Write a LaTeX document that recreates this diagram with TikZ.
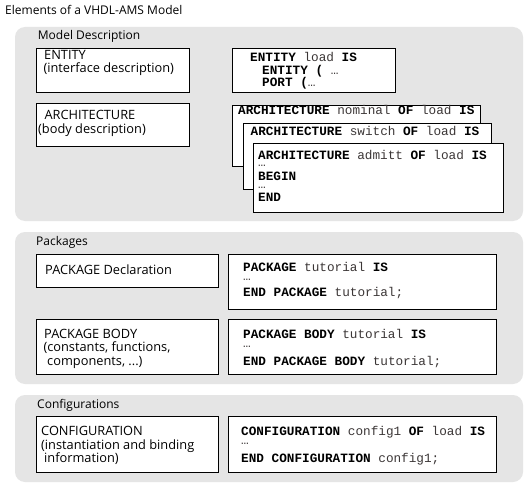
\documentclass[tikz,border=0pt]{standalone}
\usepackage{fontspec}
\setmainfont{Open Sans}
\newfontfamily\codefont{Liberation Mono}
\definecolor{panelgray}{RGB}{229,229,229}
\definecolor{codegray}{RGB}{60,55,55}
\begin{document}
\begin{tikzpicture}[x=1pt,y=-1pt,
  panel/.style={fill=panelgray,draw=none,rounded corners=10pt},
  lbox/.style={draw,line width=1.1pt,fill=white,inner sep=0,anchor=north west},
  cbox/.style={draw,line width=0.9pt,fill=white,inner sep=0,anchor=north west},
  lab/.style={anchor=base west,inner sep=0,font=\fontsize{12}{14}\selectfont},
  blab/.style={anchor=base west,inner sep=0,font=\fontsize{12.8}{14}\selectfont},
  code/.style={anchor=base west,inner sep=0,font=\codefont\fontsize{12.7}{14}\selectfont},
  dots/.style={code,text height=1.5pt,text depth=0pt},
]
\newcommand{\K}[1]{\textbf{#1}}
\newcommand{\W}[1]{\textcolor{codegray}{#1}}
\useasboundingbox (0,0) rectangle (530,492);
\fill[white] (0,0) rectangle (530,492);
% title
\node[lab] (title) at (5,15) {Elements of a VHDL-AMS Model};
% panels
\draw[panel] (15,27) rectangle (523,221);
\draw[panel] (15,232) rectangle (523,384);
\draw[panel] (15,395) rectangle (523,482);
\node[lab] (t1) at (37.7,40) {Model Description};
\node[lab] (t2) at (36,245.5) {Packages};
\node[lab] (t3) at (37,408.3) {Configurations};
% Model description boxes
\node[lbox,minimum width=153,minimum height=44] (ent) at (36,48) {};
\node[blab] (ent1) at (44,59.3) {ENTITY};
\node[blab] (ent2) at (43.3,73) {(interface description)};
\node[lbox,minimum width=153,minimum height=43] (arch) at (36,103) {};
\node[blab] (arch1) at (44.3,120) {ARCHITECTURE};
\node[blab] (arch2) at (38,133.5) {(body description)};
\node[cbox,minimum width=163,minimum height=44] (entc) at (232,48) {};
\node[code] (entc1) at (250,61.7) {\K{ENTITY} \W{load} \K{IS}};
\node[code] (entc2) at (262,75) {\K{ENTITY} \K{(} \W{…}};
\node[code] (entc3) at (262,86.5) {\K{PORT} \K{(}\W{…}};
\node[cbox,minimum width=248.5,minimum height=60.5] (a1) at (231.5,105) {};
\node[code] (a1t) at (238,115) {\K{ARCHITECTURE} \W{nominal} \K{OF} \W{load} \K{IS}};
\node[cbox,minimum width=248.5,minimum height=65.5] (a2) at (242.5,123.5) {};
\node[code] (a2t) at (250.5,135.5) {\K{ARCHITECTURE} \W{switch} \K{OF} \W{load} \K{IS}};
\node[cbox,minimum width=250,minimum height=68.5] (a3) at (253,143.5) {};
\node[code] (a3t1) at (258,159) {\K{ARCHITECTURE} \W{admitt} \K{OF} \W{load} \K{IS}};
\node[dots] (a3t2) at (258,166) {\W{…}};
\node[code] (a3t3) at (258,180.5) {\K{BEGIN}};
\node[dots] (a3t4) at (258,188.5) {\W{…}};
\node[code] (a3t5) at (258,201) {\K{END}};
% Packages
\node[lbox,minimum width=182,minimum height=33] (pkd) at (36,254) {};
\node[blab] (pkd1) at (45,274) {PACKAGE Declaration};
\node[cbox,minimum width=268,minimum height=55] (pkdc) at (228,254) {};
\node[code] (pkdc1) at (243,271.3) {\K{PACKAGE} \W{tutorial} \K{IS}};
\node[dots] (pkdc2) at (243,280) {\W{…}};
\node[code] (pkdc3) at (243,296.7) {\K{END} \K{PACKAGE} \W{tutorial;}};
\node[lbox,minimum width=182,minimum height=55] (pkb) at (36,319) {};
\node[blab] (pkb1) at (44,338.3) {PACKAGE BODY};
\node[blab] (pkb2) at (43.3,351.5) {(constants, functions,};
\node[blab] (pkb3) at (47,365) {components, ...)};
\node[cbox,minimum width=268,minimum height=55] (pkbc) at (228,319) {};
\node[code] (pkbc1) at (243,338.3) {\K{PACKAGE} \K{BODY} \W{tutorial} \K{IS}};
\node[dots] (pkbc2) at (243,347) {\W{…}};
\node[code] (pkbc3) at (243,365.7) {\K{END} \K{PACKAGE} \K{BODY} \W{tutorial;}};
% Configurations
\node[lbox,minimum width=182,minimum height=56] (cfg) at (36,416) {};
\node[blab] (cfg1) at (41,435) {CONFIGURATION};
\node[blab] (cfg2) at (41,449) {(instantiation and binding};
\node[blab] (cfg3) at (44,462) {information)};
\node[cbox,minimum width=268,minimum height=56] (cfgc) at (228,416) {};
\node[code] (cfgc1) at (241,435.3) {\K{CONFIGURATION} \W{config1} \K{OF} \W{load} \K{IS}};
\node[dots] (cfgc2) at (241,444.7) {\W{…}};
\node[code] (cfgc3) at (241,462) {\K{END} \K{CONFIGURATION} \W{config1;}};
\end{tikzpicture}
\end{document}
